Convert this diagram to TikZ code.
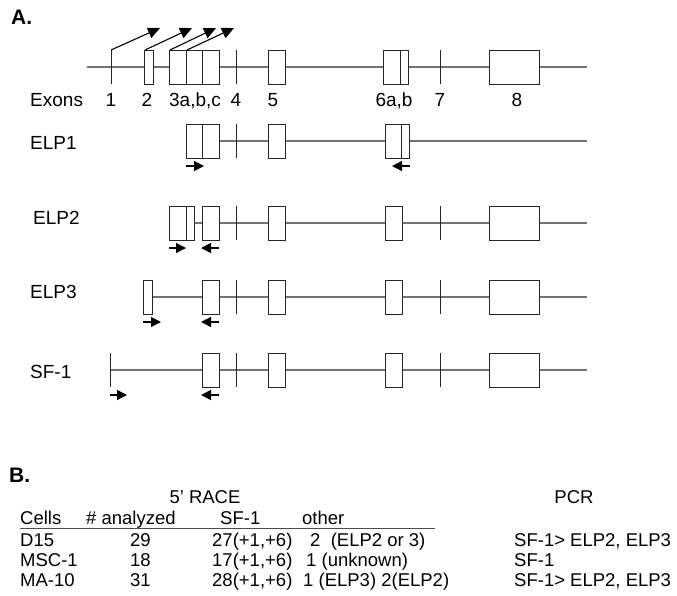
\documentclass[tikz,border=0pt]{standalone}
\usepackage{fontspec}
\setmainfont{Liberation Sans}
\usetikzlibrary{arrows.meta}
\def\boxH{17}
\def\lineEnd{587}
\newcommand{\exon}[3]{%
% #1 = left edge, #2 = right edge, #3 = row (y of the intron line)
\draw[exonbox] (#1,{#3-\boxH}) rectangle (#2,{#3+\boxH});
}
\newcommand{\splice}[2]{%
% #1 = x, #2 = row
\draw[exonbox] (#1,{#2-\boxH}) -- (#1,{#2+\boxH});
}
\newcommand{\primer}[3]{%
% #1 = from, #2 = to, #3 = row
\draw[primer] (#1,{#3+25}) -- (#2,{#3+25});
}

\begin{document}
\begin{tikzpicture}[
    x=1pt, y=-1pt,
    every node/.style={font=\fontsize{19}{22}\selectfont, inner sep=0pt},
    intron/.style={draw=black!55, line width=1.3pt},
    exonbox/.style={draw=black!85, fill=white, line width=1pt},
    primer/.style={-{Triangle[length=10pt,width=10pt]}, line width=1.2pt},
    tss/.style={-{Triangle[length=12pt,width=11pt]}, line width=1.1pt},
    exonlabel/.style={anchor=base},
    tablecell/.style={anchor=base west},
    tabletext/.style={anchor=base west, font=\fontsize{18.5}{22}\selectfont},
    panel/.style={anchor=base west, font=\fontsize{21}{24}\selectfont\bfseries}
]
\useasboundingbox (0,0) rectangle (677,595);

% Panel A: gene
\node[panel] (A) at (11,24) {A.};
\draw[intron] (87,67) -- (\lineEnd,67);
\splice{111}{67}
\exon{144}{153}{67}
\exon{169}{219}{67}
\splice{186}{67}
\splice{202}{67}
\splice{236}{67}
\exon{268}{285}{67}
\exon{383}{408}{67}
\splice{400}{67}
\splice{440}{67}
\exon{489}{539}{67}

% start sites
\coordinate (tip1) at (160,28);
\coordinate (tip2) at (192,28);
\coordinate (tip3) at (216,28);
\coordinate (tip4) at (234,28);
\draw[tss] (111,50) -- (tip1);
\draw[tss] (145,50) -- (tip2);
\draw[tss] (170,50) -- (tip3);
\draw[tss] (187,50) -- (tip4);

\node[tablecell] (exons) at (30,106) {Exons};
\node[exonlabel] (ex1) at (111,106) {1};
\node[exonlabel] (ex2) at (147,106) {2};
\node[exonlabel] (ex3) at (195,106) {3a,b,c};
\node[exonlabel] (ex4) at (236,106) {4};
\node[exonlabel] (ex5) at (273,106) {5};
\node[exonlabel] (ex6) at (394,106) {6a,b};
\node[exonlabel] (ex7) at (440,106) {7};
\node[exonlabel] (ex8) at (517,106) {8};

% ELP1
\node[tablecell] (elp1) at (30,149) {ELP1};
\draw[intron] (186,141) -- (\lineEnd,141);
\exon{186}{219}{141}
\splice{202}{141}
\splice{236}{141}
\exon{268}{285}{141}
\exon{385}{409}{141}
\splice{401}{141}
\primer{186}{204}{141}
\primer{410}{392}{141}

% ELP2
\node[tablecell] (elp2) at (33,224) {ELP2};
\draw[intron] (169,223) -- (\lineEnd,223);
\exon{169}{194}{223}
\splice{186}{223}
\primer{169}{186}{223}

% ELP3
\node[tablecell] (elp3) at (30,298) {ELP3};
\draw[intron] (143,297) -- (\lineEnd,297);
\exon{143}{152}{297}
\primer{143}{161}{297}

% SF-1
\node[tablecell] (sf1) at (30,378) {SF-1};
\draw[intron] (110,370) -- (\lineEnd,370);
\splice{110}{370}
\primer{110}{127}{370}

% exons shared by ELP2, ELP3 and SF-1
\foreach \row in {223,297,370} {
  \exon{202}{219}{\row}
  \splice{236}{\row}
  \exon{268}{285}{\row}
  \exon{385}{402}{\row}
  \splice{440}{\row}
  \exon{489}{539}{\row}
  \primer{219}{201}{\row}
}

% Panel B: table
\node[panel] (B) at (9,482) {B.};
\node[exonlabel, font=\fontsize{18.5}{22}\selectfont] (race) at (205,503) {5' RACE};
\node[exonlabel, font=\fontsize{18.5}{22}\selectfont] (pcr) at (574,503) {PCR};
\node[tabletext] (hcells) at (20,524) {Cells};
\node[tabletext] (hanalyzed) at (86,524) {\# analyzed};
\node[tabletext] (hsf1) at (220,524) {SF-1};
\node[tabletext] (hother) at (302,524) {other};
\draw[black!70, line width=0.9pt] (20,528) -- (435,528);

\node[tabletext] (d15) at (20,546) {D15};
\node[tabletext] (d15n) at (130,546) {29};
\node[tabletext] (d15sf) at (212,546) {27(+1,+6)};
\node[tabletext] (d15o) at (310,546) {2\ \ (ELP2 or 3)};
\node[tabletext] (d15p) at (514,546) {SF-1> ELP2, ELP3};

\node[tabletext] (msc) at (20,566) {MSC-1};
\node[tabletext] (mscn) at (130,566) {18};
\node[tabletext] (mscsf) at (212,566) {17(+1,+6)};
\node[tabletext] (msco) at (306,566) {1 (unknown)};
\node[tabletext] (mscp) at (514,566) {SF-1};

\node[tabletext] (ma) at (20,586) {MA-10};
\node[tabletext] (man) at (130,586) {31};
\node[tabletext] (masf) at (212,586) {28(+1,+6)};
\node[tabletext] (mao) at (303,586) {1 (ELP3) 2(ELP2)};
\node[tabletext] (map) at (514,586) {SF-1> ELP2, ELP3};
\end{tikzpicture}
\end{document}
